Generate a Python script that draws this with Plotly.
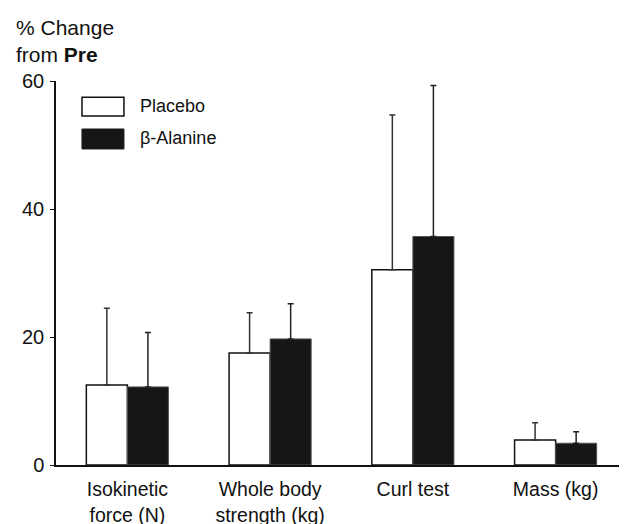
import plotly.graph_objects as go

categories = ["Isokinetic<br>force (N)", "Whole body<br>strength (kg)", "Curl test", "Mass (kg)"]
placebo = [12.5, 17.5, 30.5, 3.9]
placebo_sd = [12.0, 6.3, 24.2, 2.7]
beta = [12.2, 19.7, 35.7, 3.4]
beta_sd = [8.5, 5.5, 23.6, 1.8]
yticks = [0, 20, 40, 60]

FONT = "Liberation Sans, Arial, Helvetica, sans-serif"

fig = go.Figure()
fig.add_trace(go.Bar(
    x=categories, y=placebo, name="Placebo",
    marker=dict(color="white", line=dict(color="#111111", width=1.5)),
    error_y=dict(type="data", array=placebo_sd, arrayminus=[0]*4, symmetric=False,
                 color="#333333", thickness=1.5, width=3),
))
fig.add_trace(go.Bar(
    x=categories, y=beta, name="β-Alanine",
    marker=dict(color="#161616", line=dict(color="#555555", width=1)),
    error_y=dict(type="data", array=beta_sd, arrayminus=[0]*4, symmetric=False,
                 color="#222222", thickness=1.5, width=3),
))

# page body adds an 8px offset; margins compensate so the plot area sits at x 56-627, y 81-465
fig.update_layout(
    width=627, height=524,
    margin=dict(l=48, r=8, t=73, b=67, autoexpand=False),
    paper_bgcolor="white", plot_bgcolor="white",
    barmode="group", bargap=0.425, bargroupgap=0,
    showlegend=False,
    font=dict(family=FONT, size=20, color="#111111"),
    xaxis=dict(range=[-0.5, 3.5], showline=True, linecolor="#111111", linewidth=1.5,
               ticks="", showgrid=False, zeroline=False, tickfont=dict(size=19.5),
               ticklabelstandoff=6, automargin=False),
    yaxis=dict(range=[0, 60], tickvals=yticks, showline=True, linecolor="#111111",
               linewidth=1.5, ticks="outside", ticklen=4, tickcolor="#111111",
               showgrid=False, zeroline=False, tickfont=dict(size=20), ticklabelstandoff=2,
               automargin=False),
)

# custom legend
fig.add_shape(type="rect", xref="paper", yref="paper", x0=0.0455, x1=0.119, y0=0.909, y1=0.958,
              line=dict(color="#111111", width=1.5), fillcolor="white")
fig.add_shape(type="rect", xref="paper", yref="paper", x0=0.0455, x1=0.119, y0=0.823, y1=0.875,
              line=dict(color="#161616", width=1), fillcolor="#161616")
fig.add_annotation(xref="paper", yref="paper", x=0.1436, y=0.935, text="Placebo",
                   showarrow=False, xanchor="left", yanchor="middle", font=dict(size=18))
fig.add_annotation(xref="paper", yref="paper", x=0.1436, y=0.851, text="β-Alanine",
                   showarrow=False, xanchor="left", yanchor="middle", font=dict(size=18))

# axis title
fig.add_annotation(xref="paper", yref="paper", x=-0.074, y=1.175, text="% Change<br>from <b>Pre</b>",
                   showarrow=False, xanchor="left", yanchor="top", align="left",
                   font=dict(size=21))

fig.write_html("out.html")
